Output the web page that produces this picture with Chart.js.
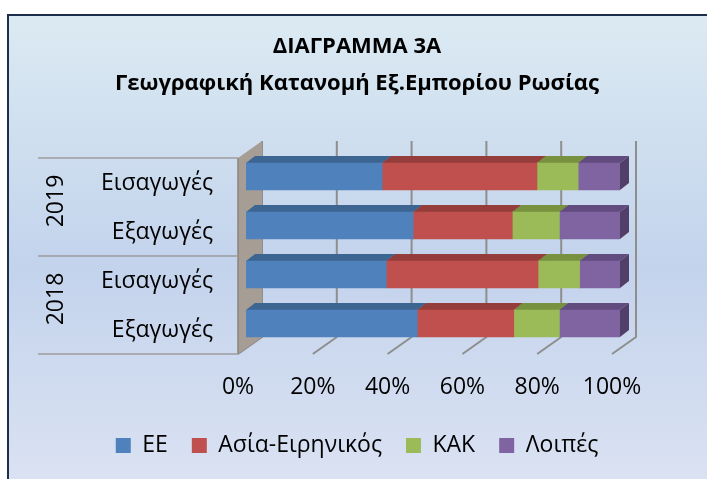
<!DOCTYPE html>
<html>
<head>
<meta charset="utf-8">
<script src="https://cdn.jsdelivr.net/npm/chart.js@4.4.1/dist/chart.umd.min.js"></script>
<style>
  html, body { margin: 0; padding: 0; background: #fff; overflow: hidden; }
  #frame {
    position: absolute; left: 7px; top: 14px; width: 720px; height: 480px;
    border-top: 2px solid #1c2e4c; border-left: 2px solid #1c2e4c;
    background: linear-gradient(to bottom, #dbeaf2 0%, #c3d3ec 52%, #dce3f3 100%);
  }
  #chart { position: absolute; left: 0; top: 0; }
</style>
</head>
<body>
<div id="frame"></div>
<canvas id="chart" width="707" height="479"></canvas>
<script>
const years = ['2019', '2018'];
const flows = ['Εισαγωγές', 'Εξαγωγές'];
const seriesNames = ['ΕΕ', 'Ασία-Ειρηνικός', 'ΚΑΚ', 'Λοιπές'];
// shares in %, bars from top: 2019 imports, 2019 exports, 2018 imports, 2018 exports
const euShare    = [36.4, 44.7, 37.5, 45.8];
const asiaShare  = [41.4, 26.5, 40.6, 25.8];
const cisShare   = [11.0, 12.6, 11.1, 12.2];
const otherShare = [11.2, 16.2, 10.8, 16.2];
const xTicks = [0, 20, 40, 60, 80, 100];

const faceColors = ['#4f81bd', '#c0504d', '#9bbb59', '#8064a2'];
const topColors  = ['#3d6592', '#943d3a', '#77913f', '#624b7e'];
const sideColors = ['#33557c', '#7c3230', '#627934', '#513e69'];

// fake 3d offsets, relative to the bar scale
const DEPTH = { dx: 9, dy: -7 };
const BACK  = { dx: 16, dy: -11 };
const FRONT = { dx: -8, dy: 6 };

Chart.defaults.font.family = "'Open Sans', sans-serif";
Chart.defaults.color = '#000';

const labels = years.flatMap(() => flows);

const wall3d = {
    id: 'wall3d',
    beforeDatasetsDraw(chart) {
        const { ctx, chartArea: a, scales: { x, y } } = chart;
        ctx.save();

        // back wall + floor grid
        ctx.strokeStyle = '#8e8e8e';
        ctx.lineWidth = 2;
        xTicks.forEach(v => {
            const px = x.getPixelForValue(v);
            ctx.beginPath();
            ctx.moveTo(px + BACK.dx, a.top + BACK.dy);
            ctx.lineTo(px + BACK.dx, a.bottom + BACK.dy);
            ctx.lineTo(px + FRONT.dx, a.bottom + FRONT.dy);
            ctx.stroke();
        });

        // left wall
        ctx.beginPath();
        ctx.moveTo(a.left + FRONT.dx, a.top + FRONT.dy);
        ctx.lineTo(a.left + BACK.dx, a.top + BACK.dy);
        ctx.lineTo(a.left + BACK.dx, a.bottom + BACK.dy);
        ctx.lineTo(a.left + FRONT.dx, a.bottom + FRONT.dy);
        ctx.closePath();
        ctx.fillStyle = '#a69d94';
        ctx.fill();
        ctx.strokeStyle = '#8a847e';
        ctx.lineWidth = 1.5;
        ctx.beginPath();
        ctx.moveTo(a.left + FRONT.dx, a.top + FRONT.dy);
        ctx.lineTo(a.left + FRONT.dx, a.bottom + FRONT.dy);
        ctx.stroke();

        // year groups on the category axis
        const band = y.getPixelForValue(1) - y.getPixelForValue(0);
        ctx.strokeStyle = '#9d9d9d';
        ctx.lineWidth = 1.5;
        for (let g = 0; g <= years.length; g++) {
            const yy = y.getPixelForValue(g * flows.length) - band / 2 + FRONT.dy;
            ctx.beginPath();
            ctx.moveTo(38, yy);
            ctx.lineTo(a.left + FRONT.dx, yy);
            ctx.stroke();
        }
        ctx.fillStyle = '#000';
        ctx.font = "23px 'Open Sans', sans-serif";
        ctx.textAlign = 'center';
        ctx.textBaseline = 'middle';
        years.forEach((yr, g) => {
            const first = y.getPixelForValue(g * flows.length);
            const last = y.getPixelForValue(g * flows.length + flows.length - 1);
            ctx.save();
            ctx.translate(56, (first + last) / 2);
            ctx.rotate(-Math.PI / 2);
            ctx.fillText(yr, 0, 0);
            ctx.restore();
        });

        // top and side faces of the bars
        labels.forEach((_, j) => {
            chart.data.datasets.forEach((ds, i) => {
                const bar = chart.getDatasetMeta(i).data[j];
                const { x: end, base, y: cy, height } = bar.getProps(['x', 'base', 'y', 'height'], true);
                const t = cy - height / 2, b = cy + height / 2;
                ctx.fillStyle = topColors[i];
                ctx.beginPath();
                ctx.moveTo(base, t);
                ctx.lineTo(end, t);
                ctx.lineTo(end + DEPTH.dx, t + DEPTH.dy);
                ctx.lineTo(base + DEPTH.dx, t + DEPTH.dy);
                ctx.closePath();
                ctx.fill();
                ctx.fillStyle = sideColors[i];
                ctx.beginPath();
                ctx.moveTo(end, t);
                ctx.lineTo(end + DEPTH.dx, t + DEPTH.dy);
                ctx.lineTo(end + DEPTH.dx, b + DEPTH.dy);
                ctx.lineTo(end, b);
                ctx.closePath();
                ctx.fill();
            });
        });
        ctx.restore();
    }
};

const shares = [euShare, asiaShare, cisShare, otherShare];

new Chart(document.getElementById('chart'), {
    type: 'bar',
    data: {
        labels: labels,
        datasets: seriesNames.map((name, i) => ({
            label: name,
            data: shares[i],
            backgroundColor: faceColors[i],
            borderWidth: 0,
            barThickness: 27,
            xAxisID: 'x',
            yAxisID: 'y'
        }))
    },
    options: {
        indexAxis: 'y',
        responsive: false,
        animation: false,
        devicePixelRatio: 1,
        layout: { padding: { left: 7, right: 0, top: 0, bottom: 12 } },
        plugins: {
            title: {
                display: true,
                text: ['ΔΙΑΓΡΑΜΜΑ 3Α', 'Γεωγραφική Κατανομή Εξ.Εμπορίου Ρωσίας'],
                color: '#000',
                font: { size: 22, weight: 'bold', lineHeight: 37 / 22 },
                padding: { top: 28.5, bottom: 49.5 }
            },
            legend: {
                position: 'bottom',
                labels: {
                    boxWidth: 15,
                    boxHeight: 15,
                    padding: 24,
                    color: '#000',
                    font: { size: 23 }
                }
            },
            tooltip: { enabled: false }
        },
        scales: {
            x: {
                stacked: true,
                min: 0,
                max: 100,
                afterBuildTicks: s => { s.ticks = xTicks.map(v => ({ value: v })); },
                afterFit: s => { s.height = 62; },
                grid: { display: false, drawTicks: false },
                border: { display: false },
                ticks: {
                    padding: 25.2,
                    labelOffset: FRONT.dx,
                    font: { size: 23 },
                    callback: v => v + '%'
                }
            },
            y: {
                stacked: true,
                afterFit: s => { s.width = 239; },
                grid: { display: false, drawTicks: false },
                border: { display: false },
                ticks: { padding: 33, labelOffset: 6.5, font: { size: 23 } }
            },
            yRight: {
                type: 'category',
                position: 'right',
                afterFit: s => { s.width = 87; },
                grid: { display: false, drawTicks: false },
                border: { display: false },
                ticks: { display: false }
            }
        }
    },
    plugins: [wall3d]
});
</script>
</body>
</html>
